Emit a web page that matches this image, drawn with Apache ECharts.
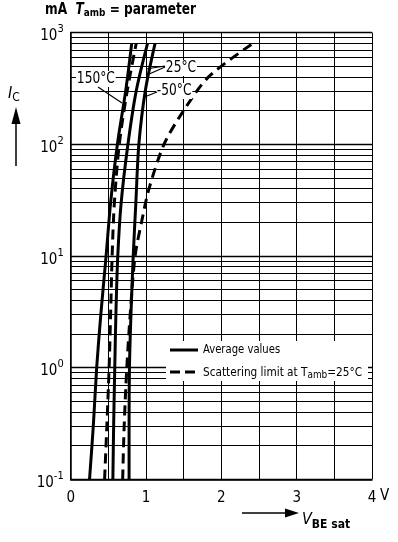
<!DOCTYPE html>
<html>
<head>
<meta charset="utf-8">
<script src="https://cdn.jsdelivr.net/npm/echarts@6/dist/echarts.min.js"></script>
<style>
html,body{margin:0;padding:0;background:#fff;}
#chart{width:398px;height:542px;}
</style>
</head>
<body>
<div id="chart"></div>
<script>
// ---- data ----
const currents = [0.1, 0.3, 1, 3, 10, 30, 100, 300, 800];          // mA
const v150 = [0.25, 0.30, 0.345, 0.40, 0.47, 0.53, 0.62, 0.73, 0.81]; // V, 150 °C average
const v25 = [0.56, 0.57, 0.585, 0.60, 0.625, 0.67, 0.76, 0.87, 1.02]; // V, 25 °C average
const vMinus50 = [0.775, 0.775, 0.78, 0.80, 0.83, 0.865, 0.905, 0.99, 1.12]; // V, -50 °C average
const vScatterLow = [0.45, 0.48, 0.51, 0.53, 0.55, 0.58, 0.645, 0.75, 0.87]; // V, lower scattering limit
const scatterHighCurrents = [0.1, 0.3, 1, 3, 10, 20, 40, 100, 200, 400, 800];
const vScatterHigh = [0.69, 0.71, 0.745, 0.79, 0.855, 0.94, 1.04, 1.24, 1.50, 1.83, 2.42];
const xTickLabels = {0: '0', 1: '1', 2: '2', 3: '3', 4: '4'};
const decadeStarts = [0.1, 1, 10, 100];
const minorMultipliers = [2, 3, 4, 5, 6, 7, 8, 9];

const FONT = '"Liberation Sans Narrow", "DejaVu Sans Condensed", "Liberation Sans", sans-serif';

function pairs(vs, is) { return vs.map((v, k) => [v, is[k]]); }

const minorLines = [];
decadeStarts.forEach(d => minorMultipliers.forEach(m => minorLines.push({ yAxis: +(d * m).toPrecision(3) })));

const solid = { color: '#000', width: 3, type: 'solid' };
const dashed = { color: '#000', width: 3, type: [10, 6] };

function lineSeries(name, data, style, extra) {
  return Object.assign({
    name: name, type: 'line', data: data, symbol: 'none', smooth: 0.3,
    lineStyle: style, itemStyle: { color: '#000' }, silent: true, z: 5
  }, extra || {});
}

function txt(x, y, sx, style, z) {
  return { type: 'text', x: x, y: y, scaleX: sx, z: z || 10,
    style: Object.assign({ fill: '#000', align: 'left', verticalAlign: 'top', fontFamily: FONT }, style) };
}

const chart = echarts.init(document.getElementById('chart'), null, { renderer: 'canvas' });
chart.setOption({
  animation: false,
  backgroundColor: '#fff',
  grid: { left: 70.7, right: 26, top: 32.5, bottom: 62.7, containLabel: false },
  xAxis: {
    type: 'value', min: 0, max: 4, interval: 0.5,
    axisLine: { show: true, lineStyle: { color: '#000', width: 1.5 } },
    axisTick: { show: false },
    splitLine: { show: true, lineStyle: { color: '#000', width: 1 } },
    axisLabel: {
      margin: 11, color: '#000', fontSize: 15, fontFamily: FONT,
      formatter: v => (xTickLabels[v] !== undefined ? xTickLabels[v] : '')
    }
  },
  yAxis: {
    type: 'log', logBase: 10, min: 0.1, max: 1000,
    axisLine: { show: true, lineStyle: { color: '#000', width: 1.5 } },
    axisTick: { show: false },
    splitLine: { show: true, lineStyle: { color: '#000', width: 1.3 } },
    axisLabel: {
      margin: 7, color: '#000', fontFamily: FONT,
      formatter: v => '{b|10}{s|' + Math.round(Math.log10(v)) + '}',
      rich: {
        b: { fontSize: 15, fontFamily: FONT, color: '#000', padding: [8, 0, 0, 0] },
        s: { fontSize: 11, fontFamily: FONT, color: '#000', padding: [0, 0, 6, 0] }
      }
    }
  },
  series: [
    lineSeries('150 °C', pairs(v150, currents), solid, {
      markLine: {
        silent: true, symbol: 'none', label: { show: false },
        lineStyle: { color: '#000', width: 1, type: 'solid' },
        data: minorLines, z: 1
      }
    }),
    lineSeries('25 °C', pairs(v25, currents), solid),
    lineSeries('-50 °C', pairs(vMinus50, currents), solid),
    lineSeries('Scattering low', pairs(vScatterLow, currents), dashed),
    lineSeries('Scattering high', pairs(vScatterHigh, scatterHighCurrents), dashed)
  ],
  graphic: [
    // title
    txt(45, 1, 0.9, {
        text: '{n|mA  }{i|T}{s|amb}{n| = parameter}',
        rich: {
          n: { fontSize: 15, fontFamily: FONT, fontWeight: 'bold', fill: '#000' },
          i: { fontSize: 15, fontFamily: FONT, fontWeight: 'bold', fontStyle: 'italic', fill: '#000' },
          s: { fontSize: 11, fontFamily: FONT, fontWeight: 'bold', fill: '#000', padding: [7, 0, 0, 0] }
        } }),
    // y axis name + arrow
    txt(8, 84, 1, {
        text: '{i|I}{s|C}', rich: {
          i: { fontSize: 16, fontFamily: FONT, fontStyle: 'italic', fill: '#000' },
          s: { fontSize: 12, fontFamily: FONT, fill: '#000', padding: [8, 0, 0, 0] } } }),
    { type: 'line', shape: { x1: 16, y1: 166, x2: 16, y2: 120 }, style: { stroke: '#000', lineWidth: 1.5 } },
    { type: 'polygon', shape: { points: [[11.5, 124], [16, 107], [20.5, 124]] }, style: { fill: '#000' } },
    // x axis name + arrow
    { type: 'line', shape: { x1: 242, y1: 513, x2: 288, y2: 513 }, style: { stroke: '#000', lineWidth: 1.5 } },
    { type: 'polygon', shape: { points: [[285, 508.5], [299, 513], [285, 517.5]] }, style: { fill: '#000' } },
    txt(302, 508, 1, {
        text: '{i|V}{s|BE sat}', rich: {
          i: { fontSize: 16, fontFamily: FONT, fontStyle: 'italic', fill: '#000' },
          s: { fontSize: 12, fontFamily: FONT, fontWeight: 'bold', fill: '#000', padding: [11, 0, 0, 0] } } }),
    // unit after 4
    txt(380, 489, 1, { text: 'V', fontSize: 15 }),
    // curve labels
    txt(76, 71, 0.85, { text: '150°C', fontSize: 16, backgroundColor: '#fff', padding: [0, 1, 0, 1] }),
    { type: 'line', z: 10, shape: { x1: 98, y1: 87, x2: 122, y2: 103 }, style: { stroke: '#000', lineWidth: 1.2 } },
    txt(165, 60, 0.85, { text: '25°C', fontSize: 16, backgroundColor: '#fff', padding: [0, 1, 0, 1] }),
    { type: 'line', z: 10, shape: { x1: 165, y1: 66, x2: 146, y2: 69 }, style: { stroke: '#000', lineWidth: 1.2 } },
    { type: 'line', z: 10, shape: { x1: 165, y1: 67, x2: 147, y2: 75 }, style: { stroke: '#000', lineWidth: 1.2 } },
    txt(156, 83, 0.85, { text: '-50°C', fontSize: 16, backgroundColor: '#fff', padding: [0, 1, 0, 1] }),
    { type: 'line', z: 10, shape: { x1: 147, y1: 96, x2: 157, y2: 92 }, style: { stroke: '#000', lineWidth: 1.2 } },
    // legend
    { type: 'rect', z: 10, shape: { x: 166, y: 341, width: 202, height: 40 }, style: { fill: '#fff' } },
    { type: 'line', z: 11, shape: { x1: 170, y1: 350, x2: 198, y2: 350 }, style: { stroke: '#000', lineWidth: 3 } },
    { type: 'line', z: 11, shape: { x1: 170, y1: 372, x2: 198, y2: 372 }, style: { stroke: '#000', lineWidth: 3, lineDash: [10, 5] } },
    txt(203, 343, 0.86, { text: 'Average values', fontSize: 13 }, 11),
    txt(203, 364, 0.9, {
        text: '{n|Scattering limit at T}{s|amb}{n|=25°C}', rich: {
          n: { fontSize: 13, fontFamily: FONT, fill: '#000' },
          s: { fontSize: 11, fontFamily: FONT, fill: '#000', padding: [6, 0, 0, 0] } } }, 11)
  ]
});
</script>
</body>
</html>
